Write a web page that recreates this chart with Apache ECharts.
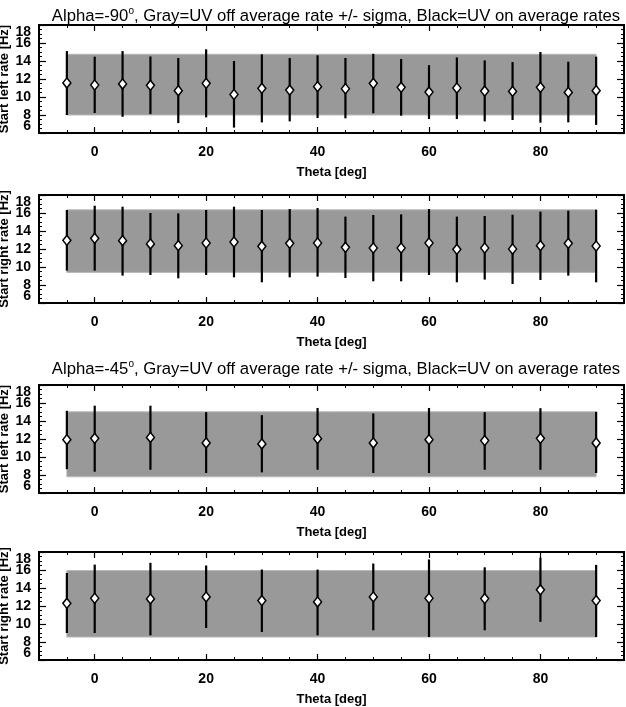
<!DOCTYPE html>
<html><head><meta charset="utf-8">
<script src="https://cdn.jsdelivr.net/npm/echarts@6/dist/echarts.min.js"></script>
<style>html,body{margin:0;padding:0;background:#fff}#c{width:626px;height:707px}</style>
</head><body><div id="c"></div>
<script>
// ---------- data ----------
const thetaA = [-5, 0, 5, 10, 15, 20, 25, 30, 35, 40, 45, 50, 55, 60, 65, 70, 75, 80, 85, 90];
const leftMeanA  = [11.56, 11.33, 11.45, 11.30, 10.70, 11.52, 10.28, 10.96, 10.77, 11.15, 10.92, 11.52, 11.07, 10.55, 11.00, 10.66, 10.62, 11.07, 10.51, 10.70];
const leftLowA   = [8.00, 8.22, 7.80, 8.10, 7.10, 7.74, 6.60, 7.18, 7.29, 7.66, 7.63, 8.19, 7.93, 7.55, 7.55, 7.29, 7.44, 7.14, 7.18, 6.90];
const leftHighA  = [15.10, 14.48, 15.10, 14.50, 14.33, 15.30, 14.00, 14.74, 14.33, 14.63, 14.33, 14.80, 14.22, 13.54, 14.40, 14.07, 13.88, 15.00, 13.92, 14.48];
const rightMeanA = [12.96, 13.19, 12.93, 12.56, 12.37, 12.67, 12.78, 12.30, 12.63, 12.67, 12.19, 12.11, 12.11, 12.67, 11.96, 12.11, 12.00, 12.37, 12.63, 12.33];
const rightLowA  = [9.60, 9.60, 9.04, 9.11, 8.74, 9.11, 8.85, 8.30, 8.85, 8.93, 8.78, 8.41, 8.41, 9.11, 8.30, 8.60, 8.11, 8.56, 9.04, 8.30];
const rightHighA = [16.33, 16.81, 16.70, 16.00, 15.96, 16.33, 16.70, 16.33, 16.44, 16.56, 15.60, 15.78, 15.85, 16.44, 15.60, 15.67, 15.81, 16.15, 16.26, 16.37];

const thetaB = [-5, 0, 10, 20, 30, 40, 50, 60, 70, 80, 90];
const leftMeanB  = [11.93, 12.07, 12.18, 11.56, 11.45, 12.04, 11.56, 11.93, 11.82, 12.07, 11.56];
const leftLowB   = [8.65, 8.36, 8.58, 8.22, 8.29, 8.58, 8.22, 8.22, 8.58, 8.58, 8.22];
const leftHighB  = [15.13, 15.70, 15.70, 14.98, 14.65, 15.45, 14.84, 15.45, 14.98, 15.42, 15.02];
const rightMeanB = [12.30, 12.86, 12.79, 13.01, 12.60, 12.45, 13.01, 12.86, 12.82, 13.80, 12.60];
const rightLowB  = [9.00, 9.00, 8.74, 9.56, 9.11, 8.74, 9.30, 8.55, 9.30, 10.24, 8.55];
const rightHighB = [15.67, 16.60, 16.80, 16.50, 16.05, 16.05, 16.72, 17.17, 16.30, 17.36, 16.57];

// UV off average rate +/- sigma (gray band): [low, high]
const bandLeftA  = [8.00, 14.75];
const bandRightA = [9.40, 16.35];
const bandLeftB  = [7.80, 15.02];
const bandRightB = [8.55, 15.94];

const xTickLabels = [0, 20, 40, 60, 80];
const yTickLabelsInner = [8, 10, 12, 14, 16];
const yTickLabelMin = [6];
const yTickLabelMax = [18];
const titleA = 'Alpha=-90{sup|o}, Gray=UV off average rate +/- sigma, Black=UV on average rates';
const titleB = 'Alpha=-45{sup|o}, Gray=UV off average rate +/- sigma, Black=UV on average rates';
const yNameLeft = 'Start left rate [Hz]';
const yNameRight = 'Start right rate [Hz]';
const xName = 'Theta [deg]';

// ---------- layout ----------
const panels = [
  {top: 25,  theta: thetaA, mean: leftMeanA,  low: leftLowA,  high: leftHighA,  band: bandLeftA,  yName: yNameLeft},
  {top: 195, theta: thetaA, mean: rightMeanA, low: rightLowA, high: rightHighA, band: bandRightA, yName: yNameRight},
  {top: 385, theta: thetaB, mean: leftMeanB,  low: leftLowB,  high: leftHighB,  band: bandLeftB,  yName: yNameLeft},
  {top: 552, theta: thetaB, mean: rightMeanB, low: rightLowB, high: rightHighB, band: bandRightB, yName: yNameRight}
];
const FONT = 'Liberation Sans';
const grids = [], xAxes = [], yAxes = [], series = [];
const tickStyle = {fontFamily: FONT, fontSize: 14, fontWeight: 'bold', color: '#000'};
const nameStyle = {fontFamily: FONT, fontSize: 13, fontWeight: 'bold', color: '#000'};

panels.forEach((p, i) => {
  grids.push({left: 39, width: 585, top: p.top, height: 108, show: true, containLabel: false,
    outerBoundsMode: 'none',
    borderColor: '#000', borderWidth: 2, backgroundColor: 'transparent'});
  const base = {gridIndex: i, type: 'value', min: -10, max: 95, interval: 5,
    axisLine: {show: false, onZero: false}, splitLine: {show: false}};
  ['bottom', 'top'].forEach(pos => {
    xAxes.push(Object.assign({}, base, {position: pos,
      axisTick: {show: true, inside: true, length: 3, lineStyle: {color: '#000', width: 1}},
      axisLabel: {show: false}}));
  });
  xAxes.push(Object.assign({}, base, {position: 'bottom',
    name: xName, nameLocation: 'middle', nameGap: 33, nameMoveOverlap: false,
    nameTextStyle: nameStyle,
    axisTick: {show: true, inside: true, length: 6, customValues: xTickLabels, lineStyle: {color: '#000', width: 1.2}},
    axisLabel: Object.assign({show: true, customValues: xTickLabels, margin: 12}, tickStyle)}));
  xAxes.push(Object.assign({}, base, {position: 'top',
    axisTick: {show: true, inside: true, length: 6, customValues: xTickLabels, lineStyle: {color: '#000', width: 1.2}},
    axisLabel: {show: false}}));
  const xi = i * 4 + 2;

  const ybase = {gridIndex: i, type: 'value', min: 6, max: 18, interval: 2,
    axisLine: {show: false, onZero: false}, splitLine: {show: false},
    axisTick: {show: true, inside: true, length: 7, lineStyle: {color: '#000', width: 1.2}},
    minorTick: {show: true, splitNumber: 4, length: 3, lineStyle: {color: '#000', width: 1}}};
  yAxes.push(Object.assign({}, ybase, {position: 'left',
    name: p.yName, nameLocation: 'middle', nameGap: 28, nameRotate: 90, nameMoveOverlap: false,
    nameTextStyle: nameStyle,
    axisLabel: Object.assign({show: true, margin: 8, customValues: yTickLabelsInner}, tickStyle)}));
  yAxes.push(Object.assign({}, ybase, {position: 'right', axisLabel: {show: false}}));
  // end labels of the y axis, kept inside the frame height
  yAxes.push({gridIndex: i, type: 'value', min: 6, max: 18, interval: 2, position: 'left',
    axisLine: {show: false, onZero: false}, splitLine: {show: false}, axisTick: {show: false},
    axisLabel: Object.assign({show: true, margin: 8, customValues: yTickLabelMin, verticalAlign: 'bottom'}, tickStyle)});
  yAxes.push({gridIndex: i, type: 'value', min: 6, max: 18, interval: 2, position: 'left',
    axisLine: {show: false, onZero: false}, splitLine: {show: false}, axisTick: {show: false},
    axisLabel: Object.assign({show: true, margin: 8, customValues: yTickLabelMax, verticalAlign: 'top'}, tickStyle)});
  const yi = i * 4;

  const x0 = Math.min.apply(null, p.theta), x1 = Math.max.apply(null, p.theta);
  series.push({type: 'custom', xAxisIndex: xi, yAxisIndex: yi, z: 1, silent: true,
    data: [[x0, p.band[0], x1, p.band[1]]],
    renderItem: (params, api) => {
      const a = api.coord([api.value(0), api.value(3)]);
      const b = api.coord([api.value(2), api.value(1)]);
      return {type: 'rect', shape: {x: a[0], y: a[1], width: b[0] - a[0], height: b[1] - a[1]},
        style: {fill: '#999999', stroke: '#b8b8b8', lineWidth: 1}};
    }});
  series.push({type: 'custom', xAxisIndex: xi, yAxisIndex: yi, z: 2, silent: true,
    data: p.theta.map((t, k) => [t, p.low[k], p.high[k]]),
    renderItem: (params, api) => {
      const a = api.coord([api.value(0), api.value(1)]);
      const b = api.coord([api.value(0), api.value(2)]);
      return {type: 'line', shape: {x1: a[0], y1: a[1], x2: b[0], y2: b[1]},
        style: {stroke: '#000', lineWidth: 2.2}};
    }});
  series.push({type: 'scatter', xAxisIndex: xi, yAxisIndex: yi, z: 3, silent: true,
    data: p.theta.map((t, k) => [t, p.mean[k]]),
    symbol: 'diamond', symbolSize: [8, 10],
    itemStyle: {color: '#ffffff', borderColor: '#000', borderWidth: 1.5, opacity: 1}});
});

const titleStyle = {fontFamily: FONT, fontSize: 16.7, fontWeight: 'normal', color: '#000', lineHeight: 22,
  rich: {sup: {fontFamily: FONT, fontSize: 10, color: '#000', lineHeight: 10, verticalAlign: 'bottom', padding: [0, 0, 11, 0]}}};
const option = {
  animation: false,
  backgroundColor: '#fff',
  title: [
    {text: titleA, left: 331, top: 0, textAlign: 'center', textStyle: titleStyle},
    {text: titleB, left: 331, top: 353, textAlign: 'center', textStyle: titleStyle}
  ],
  grid: grids, xAxis: xAxes, yAxis: yAxes, series: series
};
const chart = echarts.init(document.getElementById('c'), null, {renderer: 'canvas'});
chart.setOption(option);
</script></body></html>
